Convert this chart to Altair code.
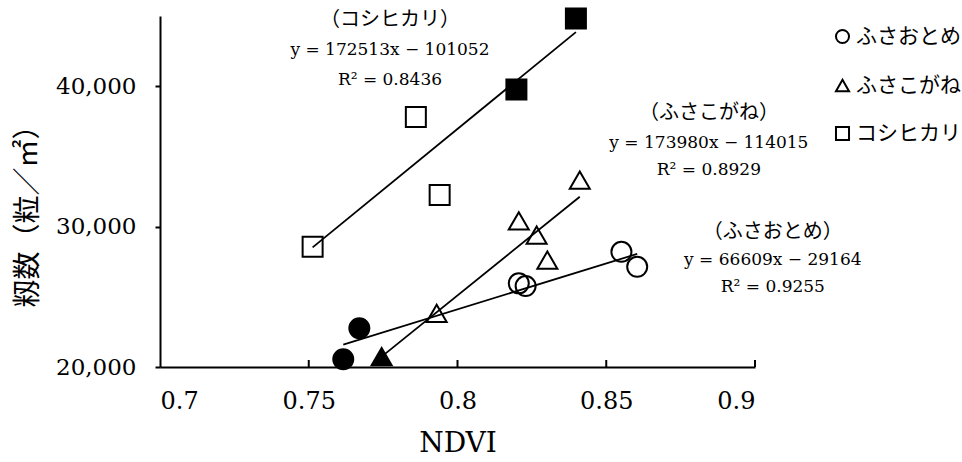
import altair as alt
import pandas as pd

# ---- data ----
variety = (["ふさおとめ"] * 6) + (["ふさこがね"] * 6) + (["コシヒカリ"] * 5)
ndvi = [0.7616, 0.7670, 0.8206, 0.8229, 0.8551, 0.8604,
        0.7745, 0.7930, 0.8206, 0.8266, 0.8302, 0.8411,
        0.7513, 0.7860, 0.7940, 0.8198, 0.8398]
grains = [20548, 22754, 25957, 25765, 28206, 27139,
          20733, 23822, 30413, 29395, 27616, 33310,
          28562, 37815, 32242, 39765, 44819]
filled = [True, True, False, False, False, False,
          True, False, False, False, False, False,
          False, False, False, True, True]

legend_order = ["ふさおとめ", "ふさこがね", "コシヒカリ"]
shapes = ["circle", "triangle-up", "square"]

x_ticks = [0.7, 0.75, 0.8, 0.85, 0.9]
y_ticks = [20000, 30000, 40000]

ann_text = ["（コシヒカリ）", "y = 172513x − 101052", "R² = 0.8436",
            "（ふさこがね）", "y = 173980x − 114015", "R² = 0.8929",
            "（ふさおとめ）", "y = 66609x − 29164", "R² = 0.9255"]
ann_kind = ["name", "eq", "eq"] * 3
# annotation anchor positions (data coordinates)
ann_x = [0.7773, 0.7773, 0.7773,
         0.8845, 0.8845, 0.8845,
         0.9060, 0.9060, 0.9060]
ann_y = [44698, 42562, 40427,
         38078, 35943, 34021,
         29609, 27616, 25694]

df = pd.DataFrame({"variety": variety, "ndvi": ndvi, "grains": grains, "filled": filled})
ann = pd.DataFrame({"text": ann_text, "kind": ann_kind, "x": ann_x, "y": ann_y})
ticks_df = pd.DataFrame({"t": x_ticks[1:]})

FONT = "DejaVu Serif, Noto Sans CJK JP"

W, H = 595, 351
xscale = alt.Scale(domain=[0.7, 0.9], nice=False, zero=False)
yscale = alt.Scale(domain=[20000, 45000], nice=False, zero=False)

xaxis = alt.Axis(values=x_ticks, labelExpr="'' + datum.value", title="NDVI",
                 grid=False, tickSize=0, labelPadding=22, labelFontSize=24,
                 labelFont=FONT, titleFont=FONT, titleFontSize=28,
                 titleFontWeight="normal", titlePadding=16,
                 domainColor="black", domainWidth=2, labelColor="black",
                 titleColor="black")
yaxis = alt.Axis(values=y_ticks, labelExpr="format(datum.value, ',')", title="籾数（粒／㎡）",
                 grid=False, tickSize=5, tickWidth=2, tickColor="black",
                 labelPadding=19, labelFontSize=23, labelFont=FONT,
                 titleFont=FONT, titleFontSize=28, titleFontWeight="normal",
                 titleX=-132, titleY=193, titleBaseline="middle",
                 domainColor="black", domainWidth=2, labelColor="black",
                 titleColor="black")

points = alt.Chart(df).mark_point(size=400, strokeWidth=2, stroke="black", opacity=1).encode(
    x=alt.X("ndvi:Q", scale=xscale, axis=xaxis),
    y=alt.Y("grains:Q", scale=yscale, axis=yaxis),
    shape=alt.Shape("variety:N",
                    scale=alt.Scale(domain=legend_order, range=shapes),
                    sort=legend_order,
                    legend=alt.Legend(title=None, orient="none", legendX=672, legendY=10,
                                      symbolSize=170, symbolStrokeWidth=2,
                                      symbolStrokeColor="black", symbolFillColor="transparent",
                                      labelFontSize=21, labelFont=FONT, labelColor="black",
                                      labelOffset=3, rowPadding=26)),
    fill=alt.condition("datum.filled", alt.value("black"), alt.value("transparent")),
)

lines = alt.Chart(df).transform_regression(
    "ndvi", "grains", groupby=["variety"]
).mark_line(color="black", strokeWidth=1.8).encode(
    x=alt.X("ndvi:Q", scale=xscale),
    y=alt.Y("grains:Q", scale=yscale),
    detail="variety:N",
)

xticks = alt.Chart(ticks_df).mark_rule(color="black", strokeWidth=2).encode(
    x=alt.X("t:Q", scale=xscale),
    y=alt.value(H),
    y2=alt.value(H - 7),
)

texts = alt.Chart(ann).mark_text(font=FONT, color="black",
                                 align="center", baseline="middle").encode(
    x=alt.X("x:Q", scale=xscale),
    y=alt.Y("y:Q", scale=yscale),
    text="text:N",
    size=alt.Size("kind:N", scale=alt.Scale(domain=["name", "eq"], range=[20, 17]), legend=None),
)

chart = alt.layer(points, lines, xticks, texts).properties(
    width=W, height=H,
    autosize=alt.AutoSizeParams(type="none"),
    padding={"left": 160, "top": 16, "right": 207, "bottom": 95},
    background="white",
).configure_view(stroke=None)

chart.save("out.html", embed_options={"renderer": "svg", "actions": False})
